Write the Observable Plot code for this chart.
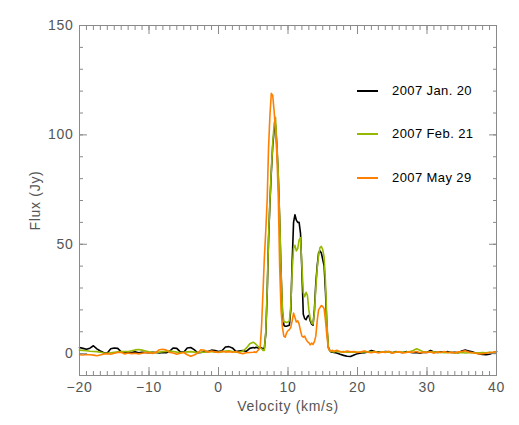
<!DOCTYPE html>
<html>
<head>
<meta charset="utf-8">
<script src="https://cdn.jsdelivr.net/npm/d3@7"></script>
<script src="https://cdn.jsdelivr.net/npm/@observablehq/plot@0.6"></script>
<style>
  html, body { margin: 0; padding: 0; background: #fff; }
  #wrap { position: relative; width: 519px; height: 425px; }
  .legend { position: absolute; left: 357px; font-family: "Liberation Sans", Arial, sans-serif; font-size: 13px; color: #000; letter-spacing: 0.4px; }
  .legend .item { position: absolute; left: 0; white-space: nowrap; height: 16px; }
  .legend .sw { position: absolute; left: 0; top: 7px; width: 21px; height: 2px; }
  .legend .lab { position: absolute; left: 35px; top: 0; line-height: 16px; }
</style>
</head>
<body>
<div id="wrap"></div>
<script>
// ---- data ----
const seriesNames = ["2007 Jan. 20", "2007 Feb. 21", "2007 May 29"];
const seriesColors = ["#000000", "#95b800", "#ff8000"];

const velocity = [
  -20,-19.5,-19,-18.5,-18,-17.5,-17,-16.5,-16,-15.5,-15,-14.5,-14,-13.5,-13,-12.5,-12,-11.5,-11,-10.5,
  -10,-9.5,-9,-8.5,-8,-7.5,-7,-6.5,-6,-5.5,-5,-4.5,-4,-3.5,-3,-2.5,-2,-1.5,-1,-0.5,
  0,0.5,1,1.5,2,2.5,3,3.5,4,4.5,
  5.0,5.2,5.4,5.6,5.8,6.0,6.2,6.4,6.6,6.8,7.0,7.2,7.4,7.6,7.8,8.0,8.2,8.4,8.6,8.8,
  9.0,9.2,9.4,9.6,9.8,10.0,10.2,10.4,10.6,10.8,11.0,11.2,11.4,11.6,11.8,12.0,12.2,12.4,12.6,12.8,
  13.0,13.2,13.4,13.6,13.8,14.0,14.2,14.4,14.6,14.8,15.0,15.2,15.4,15.6,15.8,16.0,16.2,16.4,16.6,16.8,
  17,17.5,18,18.5,19,19.5,20,20.5,21,21.5,22,22.5,23,23.5,24,24.5,25,25.5,26,26.5,
  27,27.5,28,28.5,29,29.5,30,30.5,31,31.5,32,32.5,33,33.5,34,34.5,35,35.5,36,36.5,
  37,37.5,38,38.5,39,39.5,40
];

const fluxJan20 = [
  2.8,2.4,2.0,2.5,3.6,2.2,1.2,0.4,0.3,2.2,2.6,2.4,0.8,0.3,0.6,0.5,0.8,0.4,0.6,0.5,
  0.4,0.6,0.5,0.3,0.5,0.4,1.2,2.6,2.4,0.8,0.6,2.6,2.8,1.8,0.4,0.5,0.9,1.0,1.6,1.4,
  1.0,1.3,3.0,3.2,2.6,1.0,1.2,1.4,1.0,2.4,
  2.8,2.6,2.9,2.7,2.5,2.8,2.6,2.2,2.5,9,27,52,69,83,95,102,104.5,95,81,61,
  37,19,13,12.5,12.5,12.8,13,20,42,60,63.5,61,60,60,55,38,18,16,15.5,17,
  17.5,15,13.5,13,20,32,40,46,47,46,43,40,28,12,3,1.5,0.8,0.6,0.5,0.4,
  0.3,-0.3,-0.8,-1.2,-1.3,-0.6,0.0,0.3,0.4,0.8,1.4,1.0,0.8,0.6,1.0,0.8,0.4,0.9,0.6,0.5,
  0.9,0.6,0.4,0.5,0.2,0.6,0.5,1.4,0.8,0.5,0.8,0.6,0.9,0.5,0.6,0.4,1.2,1.6,1.2,0.8,
  0.3,-0.1,-0.4,-0.5,-0.3,0.4,1.0
];

const fluxFeb21 = [
  1.6,1.4,1.3,1.1,1.0,0.9,0.6,0.3,0.2,0.4,0.6,0.8,1.0,0.9,1.0,1.3,1.7,1.9,1.6,1.2,
  0.8,0.6,0.5,0.7,0.9,1.0,1.2,1.0,0.7,0.5,0.6,0.8,0.9,0.7,0.5,0.6,0.7,0.9,1.0,0.7,
  0.6,0.8,1.2,1.3,1.0,0.7,0.6,1.2,2.5,4.5,
  5.2,4.8,4.2,3.6,3.0,2.6,2.2,1.5,1.5,10,28,53,70,84,96,105,108,96,82,62,
  38,20,14.5,14.5,14.2,14.5,15,22,38,48,49.5,47,48,52,53,40,28,26,28,26.5,
  20,16,14,13.5,19,30,39,45,48.5,49,47.5,44,32,14,3,1.2,1.0,0.9,0.8,1.0,
  1.0,0.8,0.9,0.7,0.8,0.7,0.6,0.7,0.9,0.8,0.7,0.9,0.6,0.7,0.8,0.6,0.5,0.7,0.8,0.6,
  0.7,0.9,1.4,2.2,1.5,0.8,0.6,0.7,0.8,0.5,0.6,0.4,0.5,0.6,0.3,0.4,0.5,0.3,0.4,0.5,
  0.3,0.4,0.5,0.4,0.6,0.5,0.7
];

const fluxMay29 = [
  -0.5,-0.6,-0.4,-0.5,-0.7,-1.0,-0.6,-0.2,0.0,-0.3,0.2,0.5,0.6,-0.2,0.3,0.0,0.2,-0.1,0.2,0.5,
  0.4,0.1,0.6,1.8,2.0,1.6,0.5,0.3,-0.3,0.2,0.5,-0.5,-1.2,-0.6,0.3,1.8,1.5,0.6,1.2,0.8,
  0.5,1.1,0.7,0.9,0.6,1.0,0.3,0.0,0.4,0.5,
  0.6,0.8,0.5,1.2,1.8,3,13,28,44,56,70,94,109,119,118,111,102,91,72,40,
  20,12,8,7.5,9.5,10.5,11,12,15,18.5,16.5,14.5,15,13.5,10.5,8,7.5,8,6.5,5.5,
  5,4,4.8,4.2,5.5,8,15,20,21,22,21.5,20.5,15,8,2.5,1.5,1.2,1.5,1.0,1.3,
  1.5,1.0,0.6,1.2,0.8,1.0,0.5,0.8,1.2,0.6,0.4,0.9,0.3,0.8,0.5,1.1,0.2,0.6,0.9,0.3,
  0.5,0.8,0.6,1.0,0.4,0.7,0.5,0.9,0.2,0.8,0.5,1.0,0.4,0.6,0.3,0.8,1.0,1.3,0.7,0.4,
  0.2,-0.1,0.0,0.2,0.5,0.6,1.0
];

const xTickLabels = [-20, -10, 0, 10, 20, 30, 40];
const yTickLabels = [0, 50, 100, 150];
const xMinorTicks = d3.range(-20, 40.001, 1);
const yMinorTicks = d3.range(-10, 150.001, 10);

const fluxes = [fluxJan20, fluxFeb21, fluxMay29];

// ---- chart ----
const axisColor = "#8a8a8a";
const fmt = d => (d < 0 ? "\u2212" + Math.abs(d) : String(d));

const marks = [];
fluxes.forEach((f, i) => {
  marks.push(Plot.line(f, {x: velocity, y: f, stroke: seriesColors[i], strokeWidth: 1.6}));
});

marks.push(
  Plot.frame({stroke: axisColor, strokeWidth: 1}),
  // inward ticks on all four sides
  Plot.axisX({anchor: "bottom", ticks: xMinorTicks, tickSize: -4, text: null, label: null, stroke: axisColor}),
  Plot.axisX({anchor: "bottom", ticks: xTickLabels, tickSize: -8, text: null, label: null, stroke: axisColor}),
  Plot.axisX({anchor: "top", ticks: xMinorTicks, tickSize: -4, text: null, label: null, stroke: axisColor}),
  Plot.axisX({anchor: "top", ticks: xTickLabels, tickSize: -8, text: null, label: null, stroke: axisColor}),
  Plot.axisY({anchor: "left", ticks: yMinorTicks, tickSize: -4, text: null, label: null, stroke: axisColor}),
  Plot.axisY({anchor: "left", ticks: yTickLabels, tickSize: -8, text: null, label: null, stroke: axisColor}),
  Plot.axisY({anchor: "right", ticks: yMinorTicks, tickSize: -4, text: null, label: null, stroke: axisColor}),
  Plot.axisY({anchor: "right", ticks: yTickLabels, tickSize: -8, text: null, label: null, stroke: axisColor}),
  // labels
  Plot.axisX({anchor: "bottom", ticks: xTickLabels, tickSize: 0, tickPadding: 7, tickFormat: fmt,
              label: "Velocity (km/s)", labelAnchor: "center", labelOffset: 35, labelArrow: "none", fill: "#555"}),
  Plot.axisY({anchor: "left", ticks: yTickLabels, tickSize: 0, tickPadding: 6, tickFormat: fmt,
              label: "Flux (Jy)", labelAnchor: "center", labelOffset: 49, labelArrow: "none", fill: "#555"})
);

const chart = Plot.plot({
  width: 519,
  height: 425,
  marginLeft: 79,
  marginRight: 23,
  marginTop: 25,
  marginBottom: 50,
  x: {domain: [-20, 40]},
  y: {domain: [-10, 150]},
  style: {fontFamily: "'Liberation Sans', Arial, sans-serif", fontSize: "14px", color: "#555", background: "#fff", letterSpacing: "0.7px"},
  marks
});

const wrap = document.getElementById("wrap");
wrap.appendChild(chart);

// legend inside the plot area
const legend = document.createElement("div");
legend.className = "legend";
legend.style.top = "0px";
const legendTops = [83, 126, 170];
seriesNames.forEach((name, i) => {
  const item = document.createElement("div");
  item.className = "item";
  item.style.top = legendTops[i] + "px";
  const sw = document.createElement("div");
  sw.className = "sw";
  sw.style.background = seriesColors[i];
  const lab = document.createElement("div");
  lab.className = "lab";
  lab.textContent = name;
  item.appendChild(sw);
  item.appendChild(lab);
  legend.appendChild(item);
});
wrap.appendChild(legend);
</script>
</body>
</html>
